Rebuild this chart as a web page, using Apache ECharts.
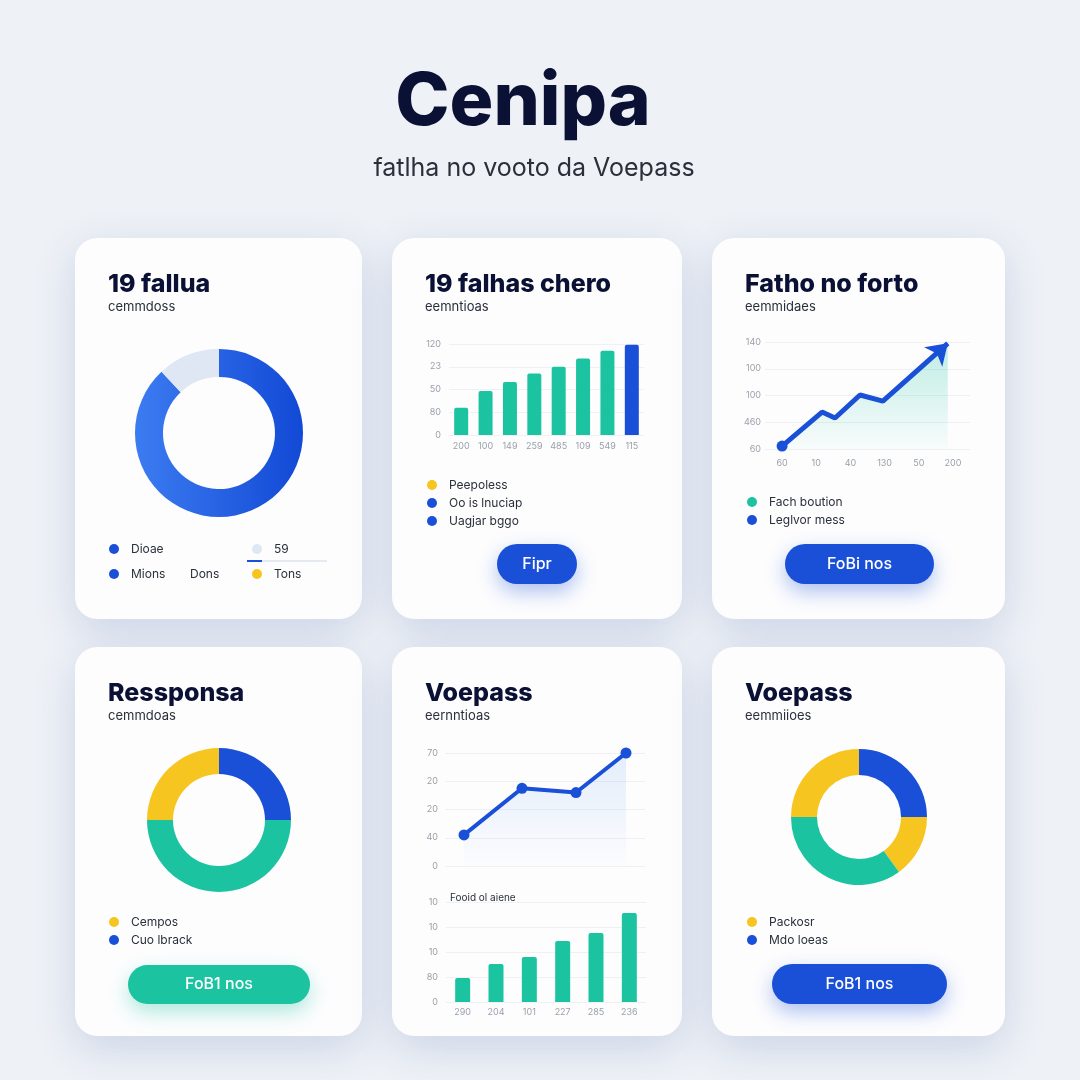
<!DOCTYPE html>
<html>
<head>
<meta charset="utf-8">
<title>Cenipa</title>
<script src="https://cdn.jsdelivr.net/npm/echarts@6/dist/echarts.min.js"></script>
<style>
  html, body { margin: 0; padding: 0; background: #eef1f6; }
  #chart { width: 1080px; height: 1080px; }
</style>
</head>
<body>
<div id="chart"></div>
<script>
// ---- data ----
// card 1: donut
const donutA = [88, 12];
const legendA = ['Dioae', '59', 'Mions', 'Dons', 'Tons'];

// card 2: bars
const barsACats = ['200', '100', '149', '259', '485', '109', '549', '115'];
const barsAValues = [36, 58, 70, 81, 90, 101, 111, 119];
const barsATicks = ['0', '80', '50', '23', '120'];
const legendB = ['Peepoless', 'Oo is lnuciap', 'Uagjar bggo'];

// card 3: rising line
const lineACats = ['60', '10', '40', '130', '50', '200'];
const lineAX = [0, 1.17, 1.55, 2.28, 2.95, 4.85];
const lineAY = [0.11, 1.38, 1.16, 2.02, 1.79, 3.95];
const lineATicks = ['60', '460', '100', '100', '140'];
const legendC = ['Fach boution', 'Leglvor mess'];

// card 4: donut
const donutB = [25, 50, 25];
const legendD = ['Cempos', 'Cuo lbrack'];

// card 5: line + bars
const lineBX = [0.95, 3.85, 6.55, 9.05];
const lineBY = [22, 55, 52, 80];
const lineBTicks = ['0', '40', '20', '20', '70'];
const barsBCats = ['290', '204', '101', '227', '285', '236'];
const barsBValues = [9.6, 15.2, 18, 24.4, 27.6, 35.6];
const barsBTicks = ['0', '80', '10', '10', '10'];

// card 6: donut
const donutC = [25, 15, 35, 25];
const legendF = ['Packosr', 'Mdo loeas'];

// ---- styles ----
const BLUE = '#1a4fd8';
const TEAL = '#1cc3a0';
const YELLOW = '#f7c520';
const LIGHT = '#dfe6f4';
const INK = '#0b1135';
const FONT = 'Inter, "Noto Sans", sans-serif';

const chart = echarts.init(document.getElementById('chart'));

function txt(x, y, text, font, fill, align) {
  return {
    type: 'text',
    style: { x: x, y: y, text: text, font: font, fill: fill, textAlign: align || 'left', textVerticalAlign: 'middle' }
  };
}
function dot(cx, cy, fill) {
  return { type: 'circle', shape: { cx: cx, cy: cy, r: 5 }, style: { fill: fill } };
}
function card(x, y, w, h) {
  return {
    type: 'rect',
    shape: { x: x, y: y, width: w, height: h, r: 22 },
    style: { fill: '#fdfdfe', shadowBlur: 40, shadowColor: 'rgba(70,100,170,0.2)', shadowOffsetY: 12 }
  };
}
function button(x, y, w, h, label, fill, glow) {
  return [
    {
      type: 'rect',
      shape: { x: x, y: y, width: w, height: h, r: h / 2 },
      style: { fill: fill, shadowBlur: 20, shadowColor: glow, shadowOffsetY: 8 }
    },
    txt(x + w / 2, y + h / 2, label, '500 16px ' + FONT, '#ffffff', 'center')
  ];
}
function heading(x, y, title, sub) {
  return [
    txt(x, y, title, '800 25px ' + FONT, INK),
    txt(x, y + 23, sub, '400 13px ' + FONT, '#2a2f3a')
  ];
}
function legendRows(x, y0, names, colors) {
  const out = [];
  names.forEach(function (n, i) {
    out.push(dot(x, y0 + i * 18, colors[i]));
    out.push(txt(x + 17, y0 + i * 18, n, '400 12px ' + FONT, '#2a2f3a'));
  });
  return out;
}

let graphics = [
  txt(523, 103, 'Cenipa', '800 73px ' + FONT, INK, 'center'),
  txt(534, 168, 'fatlha no vooto da Voepass', '400 25px ' + FONT, '#2a2f3a', 'center'),
  card(75, 238, 287, 381),
  card(392, 238, 290, 381),
  card(712, 238, 293, 381),
  card(75, 647, 287, 389),
  card(392, 647, 290, 389),
  card(712, 647, 293, 389)
];
graphics = graphics.concat(
  heading(108, 284, '19 fallua', 'cemmdoss'),
  heading(425, 284, '19 falhas chero', 'eemntioas'),
  heading(745, 284, 'Fatho no forto', 'eemmidaes'),
  heading(108, 693, 'Ressponsa', 'cemmdoas'),
  heading(425, 693, 'Voepass', 'eernntioas'),
  heading(745, 693, 'Voepass', 'eemmiioes')
);

// card 1 legend (two rows, three columns)
graphics.push(
  dot(114, 549, BLUE), txt(131, 549, legendA[0], '400 12px ' + FONT, '#2a2f3a'),
  dot(257, 549, LIGHT), txt(274, 549, legendA[1], '400 12px ' + FONT, '#2a2f3a'),
  { type: 'line', shape: { x1: 247, y1: 561, x2: 327, y2: 561 }, style: { stroke: '#dde3ee', lineWidth: 1.5 } },
  { type: 'line', shape: { x1: 247, y1: 561, x2: 262, y2: 561 }, style: { stroke: BLUE, lineWidth: 2 } },
  dot(114, 574, BLUE), txt(131, 574, legendA[2], '400 12px ' + FONT, '#2a2f3a'),
  txt(190, 574, legendA[3], '400 12px ' + FONT, '#2a2f3a'),
  dot(257, 574, YELLOW), txt(274, 574, legendA[4], '400 12px ' + FONT, '#2a2f3a')
);
graphics = graphics.concat(
  legendRows(432, 485, legendB, [YELLOW, BLUE, BLUE]),
  legendRows(752, 502, legendC, [TEAL, BLUE]),
  legendRows(114, 922, legendD, [YELLOW, BLUE]),
  legendRows(752, 922, legendF, [YELLOW, BLUE]),
  button(497, 544, 80, 40, 'Fipr', BLUE, 'rgba(26,79,216,0.35)'),
  button(785, 544, 149, 40, 'FoBi nos', BLUE, 'rgba(26,79,216,0.35)'),
  button(128, 965, 182, 39, 'FoB1 nos', TEAL, 'rgba(28,195,160,0.35)'),
  button(772, 964, 175, 40, 'FoB1 nos', BLUE, 'rgba(26,79,216,0.35)')
);
graphics.push(txt(450, 898, 'Fooid ol aiene', '400 10px ' + FONT, '#2a2f3a'));

const axisLabel = { color: '#9aa0aa', fontSize: 9, fontFamily: FONT };
const split = { lineStyle: { color: '#eef0f4', width: 1 } };

function yAxis(grid, max, interval, ticks, margin) {
  return {
    type: 'value', gridIndex: grid, min: 0, max: max, interval: interval,
    axisLine: { show: false }, axisTick: { show: false }, splitLine: split,
    axisLabel: Object.assign({}, axisLabel, {
      margin: margin,
      formatter: function (v) { return ticks[Math.round(v / interval)]; }
    })
  };
}
function catAxis(grid, cats, margin) {
  return {
    type: 'category', gridIndex: grid, data: cats, boundaryGap: true,
    axisLine: { show: false }, axisTick: { show: false },
    axisLabel: Object.assign({}, axisLabel, { margin: margin, interval: 0 })
  };
}
function hiddenX(grid, min, max) {
  return { type: 'value', gridIndex: grid, min: min, max: max, show: false, splitLine: { show: false } };
}
function grad(c0, c1) {
  return new echarts.graphic.LinearGradient(0, 0, 0, 1, [{ offset: 0, color: c0 }, { offset: 1, color: c1 }]);
}

const lineAData = lineAX.map(function (x, i) {
  const item = { value: [x, lineAY[i]] };
  if (i === 0) item.symbol = 'circle', item.symbolSize = 11;
  if (i === lineAX.length - 1) item.symbol = 'arrow', item.symbolSize = 20, item.symbolRotate = -47;
  return item;
});

const option = {
  backgroundColor: '#eef1f6',
  animation: false,
  graphic: { elements: graphics },
  grid: [
    { left: 449, right: 436, top: 344, bottom: 645 },   // card 2 bars
    { left: 765, right: 110, top: 342, bottom: 631 },   // card 3 line
    { left: 445, right: 435, top: 753, bottom: 214 },   // card 5 line
    { left: 446, right: 434, top: 902, bottom: 78 }     // card 5 bars
  ],
  xAxis: [
    catAxis(0, barsACats, 7),
    catAxis(1, lineACats, 10),
    hiddenX(1, -0.5, 5.5),
    hiddenX(2, 0, 10),
    catAxis(3, barsBCats, 6)
  ],
  yAxis: [
    yAxis(0, 120, 30, barsATicks, 8),
    yAxis(1, 4, 1, lineATicks, 4),
    yAxis(2, 80, 20, lineBTicks, 7),
    yAxis(3, 40, 10, barsBTicks, 8)
  ],
  series: [
    {
      type: 'pie', center: [219, 433], radius: [56, 84], startAngle: 90, silent: true,
      label: { show: false }, labelLine: { show: false },
      data: donutA.map(function (v, i) {
        return {
          value: v,
          itemStyle: {
            color: i === 0
              ? new echarts.graphic.LinearGradient(0, 0, 1, 0, [{ offset: 0, color: '#3c7cf1' }, { offset: 1, color: '#1249d6' }])
              : LIGHT
          }
        };
      })
    },
    {
      type: 'bar', xAxisIndex: 0, yAxisIndex: 0, barWidth: 14,
      itemStyle: { color: TEAL, borderRadius: [2, 2, 0, 0] },
      data: barsAValues.map(function (v, i) {
        return i === barsAValues.length - 1 ? { value: v, itemStyle: { color: BLUE } } : v;
      })
    },
    {
      type: 'line', xAxisIndex: 2, yAxisIndex: 1, symbol: 'none', clip: false,
      lineStyle: { color: BLUE, width: 5 },
      itemStyle: { color: BLUE },
      areaStyle: { color: grad('rgba(28,195,160,0.4)', 'rgba(28,195,160,0.03)') },
      data: lineAData
    },
    {
      type: 'pie', center: [219, 820], radius: [46, 72], startAngle: 90, silent: true,
      label: { show: false }, labelLine: { show: false },
      data: donutB.map(function (v, i) { return { value: v, itemStyle: { color: [BLUE, TEAL, YELLOW][i] } }; })
    },
    {
      type: 'line', xAxisIndex: 3, yAxisIndex: 2, symbol: 'circle', symbolSize: 11, clip: false,
      lineStyle: { color: BLUE, width: 4 },
      itemStyle: { color: BLUE },
      areaStyle: { color: grad('rgba(120,170,235,0.28)', 'rgba(120,170,235,0.02)') },
      data: lineBX.map(function (x, i) { return [x, lineBY[i]]; })
    },
    {
      type: 'bar', xAxisIndex: 4, yAxisIndex: 3, barWidth: 15,
      itemStyle: { color: TEAL, borderRadius: [2, 2, 0, 0] },
      data: barsBValues
    },
    {
      type: 'pie', center: [859, 817], radius: [42, 68], startAngle: 90, silent: true,
      label: { show: false }, labelLine: { show: false },
      data: donutC.map(function (v, i) { return { value: v, itemStyle: { color: [BLUE, YELLOW, TEAL, YELLOW][i] } }; })
    }
  ]
};
chart.setOption(option);
</script>
</body>
</html>
